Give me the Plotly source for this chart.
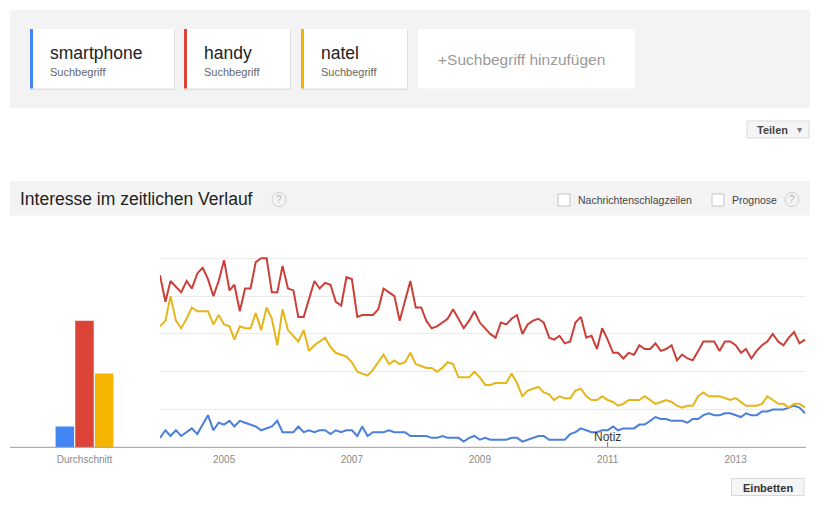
import pandas as pd
import plotly.graph_objects as go

# ---------------- data ----------------
terms = ["smartphone", "handy", "natel"]
averages = [11, 67, 39]
months = pd.date_range("2004-01-01", periods=122, freq="MS")

smartphone = [5, 9, 6, 9, 6, 8, 10, 7, 12, 17, 9, 13, 12, 14, 11, 14, 13, 12, 11, 9,
              10, 11, 14, 8, 8, 8, 11, 8, 9, 8, 9, 9, 7, 9, 8, 9, 9, 6, 11, 6,
              8, 8, 8, 9, 8, 8, 8, 6, 6, 6, 6, 5, 5, 6, 5, 5, 5, 3, 5, 6,
              4, 5, 4, 4, 4, 4, 5, 5, 3, 4, 5, 6, 6, 4, 4, 4, 4, 7, 8, 10,
              9, 8, 8, 9, 9, 11, 9, 10, 10, 10, 12, 12, 14, 16, 15, 15, 14, 14, 14, 13,
              15, 15, 17, 18, 17, 17, 18, 18, 17, 16, 18, 17, 17, 19, 19, 20, 20, 20, 21, 22,
              21, 18]
handy = [91, 77, 88, 85, 82, 88, 84, 92, 95, 89, 80, 88, 99, 83, 86, 72, 84, 84, 98, 100,
         100, 82, 82, 96, 84, 83, 69, 69, 79, 88, 84, 87, 86, 77, 75, 90, 89, 69, 70, 70,
         70, 73, 84, 82, 80, 67, 78, 88, 74, 74, 67, 63, 64, 66, 68, 73, 68, 63, 67, 72,
         66, 63, 60, 58, 66, 65, 68, 70, 60, 65, 67, 68, 66, 58, 57, 59, 55, 56, 66, 69,
         58, 59, 52, 63, 57, 50, 50, 47, 50, 49, 54, 52, 52, 55, 51, 52, 54, 46, 49, 47,
         46, 51, 56, 56, 56, 51, 56, 56, 54, 50, 52, 47, 51, 54, 56, 60, 56, 54, 58, 61,
         55, 57]
natel = [64, 67, 80, 67, 63, 68, 74, 72, 72, 72, 65, 70, 65, 64, 57, 64, 63, 63, 71, 62,
         74, 68, 54, 73, 62, 59, 56, 62, 51, 54, 56, 58, 53, 50, 49, 48, 45, 40, 39, 38,
         41, 45, 49, 44, 46, 44, 45, 50, 44, 43, 42, 42, 40, 42, 45, 44, 37, 37, 37, 40,
         37, 33, 33, 34, 34, 34, 39, 34, 27, 30, 31, 32, 29, 28, 25, 27, 26, 26, 30, 31,
         27, 25, 25, 27, 25, 24, 22, 23, 25, 25, 25, 27, 25, 23, 24, 25, 24, 22, 21, 22,
         22, 27, 29, 27, 27, 27, 26, 25, 26, 24, 22, 22, 22, 23, 27, 25, 23, 23, 21, 23,
         23, 21]
series = [smartphone, handy, natel]

year_ticks = ["2005-01-01", "2007-01-01", "2009-01-01", "2011-01-01", "2013-01-01"]
year_labels = ["2005", "2007", "2009", "2011", "2013"]

line_colors = ["#4a7fdc", "#cc3f38", "#e6b519"]
bar_colors = ["#4285f4", "#db4437", "#f4b400"]

W, H = 824, 508
FONT = "Arial, 'Liberation Sans', sans-serif"


def px(x):
    return x / W


def py(y):
    return 1 - y / H


# y scale: value 0 at y=447.3px, 1.89px per unit
Y0 = 447.3
K = 1.89
YMAX = 101
dom = [py(Y0), py(Y0 - YMAX * K)]

fig = go.Figure()

# average bars
for t, v, c in zip(terms, averages, bar_colors):
    fig.add_trace(go.Bar(x=["Durchschnitt"], y=[v], name=t, marker=dict(color=c, line=dict(width=0)),
                         xaxis="x", yaxis="y", hoverinfo="skip"))

# time lines
for t, s, c in zip(terms, series, line_colors):
    fig.add_trace(go.Scatter(x=months, y=s, name=t, mode="lines",
                             line=dict(color=c, width=2), xaxis="x2", yaxis="y2"))

shapes = []
annotations = []


def rect(x0, y0, x1, y1, fill, line=None, lw=1, layer="below"):
    shapes.append(dict(type="rect", xref="paper", yref="paper", x0=px(x0), x1=px(x1),
                       y0=py(y1), y1=py(y0), fillcolor=fill,
                       line=dict(color=line if line else fill, width=lw if line else 0),
                       layer=layer))


def text(x, y, s, size, color="#222", anchor="left", bold=False):
    if anchor == "left":
        x -= 2
    annotations.append(dict(x=px(x), y=py(y), xref="paper", yref="paper", text=("<b>%s</b>" % s) if bold else s,
                            showarrow=False, xanchor=anchor, yanchor="middle",
                            font=dict(family=FONT, size=size, color=color)))


# top panel with term cards
rect(10, 10, 810, 108, "#f3f3f3")
cards = [(30, 174, "smartphone"), (184, 290, "handy"), (301, 407, "natel")]
for (x0, x1, t), c in zip(cards, bar_colors):
    rect(x0, 30, x1 + 1, 90, "#dedede")
    rect(x0, 29, x1, 88.5, "#ffffff")
    rect(x0, 29, x0 + 3, 88.5, c)
    text(x0 + 20, 53, t, 17.5, "#222")
    text(x0 + 20, 72, "Suchbegriff", 11, "#666")
rect(418, 29, 635, 88.5, "#ffffff")
text(438, 59.5, "+Suchbegriff hinzufügen", 15.5, "#9a9a9a")

# Teilen button
rect(747, 121, 809, 138, "#f5f5f5", "#d9d9d9")
text(772, 129.5, "Teilen", 11, "#444", anchor="center", bold=True)
annotations.append(dict(x=px(799), y=py(129.5), xref="paper", yref="paper", text="▾", showarrow=False,
                        xanchor="center", yanchor="middle", font=dict(family=FONT, size=10, color="#777")))

# section header
rect(10, 181, 810, 215.5, "#f3f3f3")
text(20, 199.5, "Interesse im zeitlichen Verlauf", 17.5, "#222")


def qmark(cx, cy):
    shapes.append(dict(type="circle", xref="paper", yref="paper", x0=px(cx - 7), x1=px(cx + 7),
                       y0=py(cy + 7), y1=py(cy - 7), fillcolor="#f3f3f3",
                       line=dict(color="#cfcfcf", width=1)))
    annotations.append(dict(x=px(cx), y=py(cy), xref="paper", yref="paper", text="?", showarrow=False,
                            xanchor="center", yanchor="middle",
                            font=dict(family=FONT, size=10, color="#b5b5b5")))


qmark(279, 199.5)
rect(558, 194, 570, 206, "#ffffff", "#c6c6c6")
text(578, 200, "Nachrichtenschlagzeilen", 10.5, "#444")
rect(712, 194, 724, 206, "#ffffff", "#c6c6c6")
text(731.5, 200, "Prognose", 10.5, "#444")
qmark(792, 199.5)

# baseline
shapes.append(dict(type="line", xref="paper", yref="paper", x0=px(10), x1=px(806),
                   y0=py(Y0), y1=py(Y0), line=dict(color="#9a9a9a", width=1), layer="above"))

# Notiz marker
shapes.append(dict(type="line", xref="x2", yref="paper", x0="2011-01-01", x1="2011-01-01",
                   y0=py(447), y1=py(442), line=dict(color="#777", width=1)))
annotations.append(dict(x="2011-01-01", y=py(437), xref="x2", yref="paper", text="Notiz", showarrow=False,
                        xanchor="center", yanchor="middle", font=dict(family=FONT, size=12, color="#333")))

# Einbetten button
rect(731.5, 478.5, 804, 495.5, "#f5f5f5", "#d9d9d9")
text(768, 487.5, "Einbetten", 11, "#333", anchor="center", bold=True)

fig.update_layout(
    width=W, height=H, margin=dict(l=0, r=0, t=0, b=0),
    paper_bgcolor="#ffffff", plot_bgcolor="rgba(0,0,0,0)",
    showlegend=False, barmode="group", bargap=0.593, bargroupgap=0.06,
    font=dict(family=FONT),
    shapes=shapes, annotations=annotations,
    xaxis=dict(domain=[px(12), px(157)], anchor="y", type="category", showgrid=False,
               showline=False, zeroline=False, ticks="", ticklabelstandoff=5,
               tickfont=dict(family=FONT, size=10, color="#8a8a8a")),
    yaxis=dict(domain=dom, anchor="x", range=[0, YMAX], visible=False),
    xaxis2=dict(domain=[px(160), px(806)], anchor="y2", type="date",
                range=["2004-01-01", "2014-02-07"], showgrid=False, showline=False,
                zeroline=False, ticks="", tickvals=year_ticks, ticktext=year_labels,
                ticklabelstandoff=5,
                tickfont=dict(family=FONT, size=10, color="#8a8a8a")),
    yaxis2=dict(domain=dom, anchor="x2", range=[0, YMAX], showgrid=True, gridcolor="#ebebeb",
                tickvals=[20, 40, 60, 80, 100], showticklabels=False, zeroline=False,
                showline=False, ticks=""),
)

fig.write_html("out.html")
